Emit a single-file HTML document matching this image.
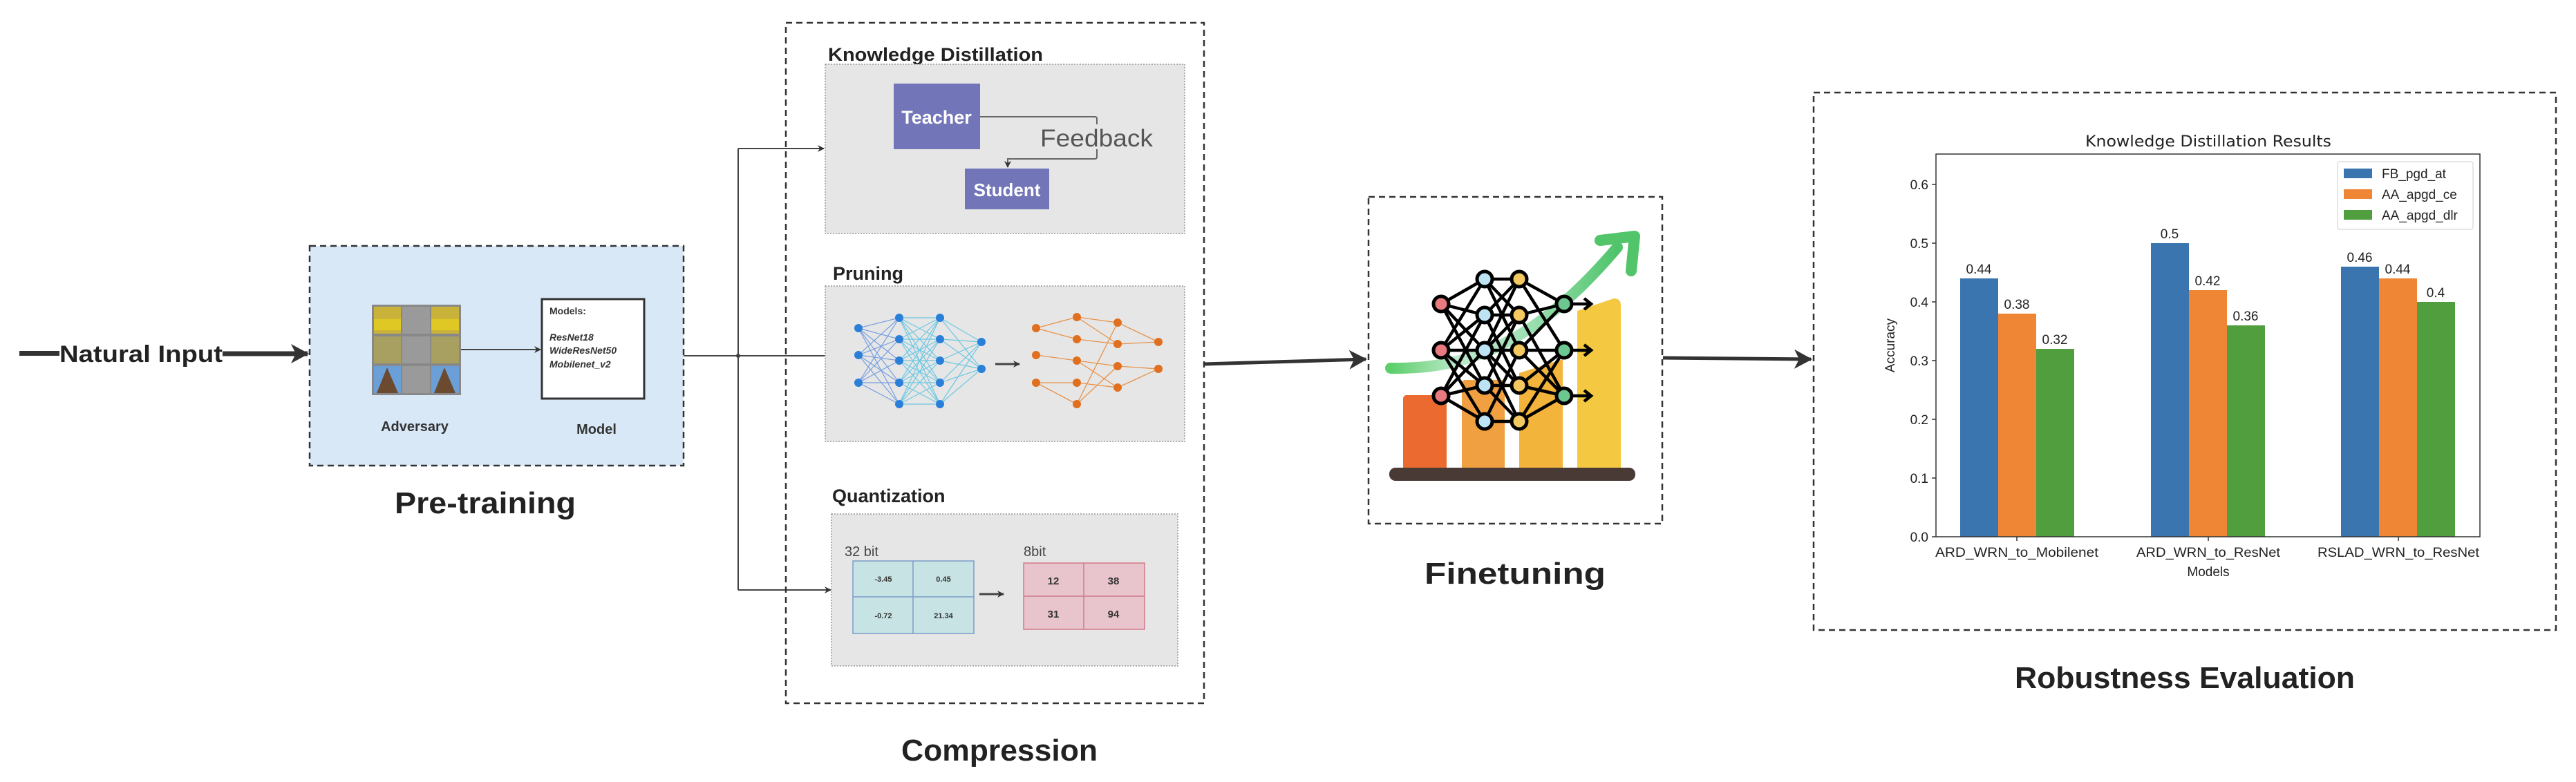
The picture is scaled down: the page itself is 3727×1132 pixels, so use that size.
<!DOCTYPE html>
<html><head><meta charset="utf-8"><style>
html,body{margin:0;padding:0;background:#fff;}
svg{display:block;}
text{font-family:"Liberation Sans","DejaVu Sans",sans-serif;}
.d{font-family:"DejaVu Sans","Liberation Sans",sans-serif;}
</style></head><body>
<svg width="3727" height="1132" viewBox="0 0 3727 1132" xmlns="http://www.w3.org/2000/svg">
<defs>
<marker id="ah" markerWidth="10" markerHeight="10" refX="9" refY="5" orient="auto" markerUnits="userSpaceOnUse"><path d="M0,0 L10,5 L0,10 L3,5 Z" fill="#333"/></marker>
<marker id="ahb" markerWidth="26" markerHeight="28" refX="24" refY="14" orient="auto" markerUnits="userSpaceOnUse"><path d="M0,0 L26,14 L0,28 L7,14 Z" fill="#333"/></marker>
<linearGradient id="garr" x1="0" y1="0" x2="1" y2="0"><stop offset="0" stop-color="#5ccf6a"/><stop offset="0.3" stop-color="#bfe9cc"/><stop offset="0.6" stop-color="#9fe0b4"/><stop offset="1" stop-color="#4fc46a"/></linearGradient>
</defs>

<!-- Natural input -->
<rect x="28" y="508" width="58" height="7" fill="#333"/>
<text x="86" y="524" font-size="34" font-weight="bold" fill="#222" textLength="236" lengthAdjust="spacingAndGlyphs">Natural Input</text>
<line x1="322" y1="512" x2="445" y2="512" stroke="#333" stroke-width="7" marker-end="url(#ahb)"/>

<!-- Pre-training -->
<rect x="448" y="356" width="541" height="318" fill="#d8e8f7" stroke="#333" stroke-width="2.5" stroke-dasharray="9,6"/>
<g>
<rect x="538" y="441" width="129" height="131" fill="#888"/>
<rect x="541" y="444" width="39" height="39" fill="#c9b23a"/><rect x="541" y="462" width="39" height="16" fill="#e0c824"/>
<rect x="582" y="444" width="40" height="39" fill="#9a9a9a"/>
<rect x="624" y="444" width="40" height="39" fill="#c9b23a"/><rect x="624" y="462" width="40" height="16" fill="#e0c824"/>
<rect x="541" y="487" width="39" height="39" fill="#a8a060"/>
<rect x="582" y="487" width="40" height="39" fill="#9a9a9a"/>
<rect x="624" y="487" width="40" height="39" fill="#a8a060"/>
<rect x="541" y="530" width="39" height="39" fill="#6a9fd8"/><path d="M545,569 L560,532 L576,569Z" fill="#6b4a30"/>
<rect x="582" y="530" width="40" height="39" fill="#9a9a9a"/>
<rect x="624" y="530" width="40" height="39" fill="#6a9fd8"/><path d="M628,569 L643,532 L659,569Z" fill="#6b4a30"/>
</g>
<line x1="667" y1="506" x2="782" y2="506" stroke="#444" stroke-width="2" marker-end="url(#ah)"/>
<rect x="784" y="433" width="148" height="144" fill="#fff" stroke="#333" stroke-width="3"/>
<text x="795" y="455" font-size="14" font-weight="bold" fill="#333">Models:</text>
<text x="795" y="493" font-size="14" font-weight="bold" font-style="italic" fill="#333">ResNet18</text>
<text x="795" y="512" font-size="14" font-weight="bold" font-style="italic" fill="#333">WideResNet50</text>
<text x="795" y="532" font-size="14" font-weight="bold" font-style="italic" fill="#333">Mobilenet_v2</text>
<text x="600" y="624" font-size="20" font-weight="bold" fill="#333" text-anchor="middle">Adversary</text>
<text x="863" y="628" font-size="20" font-weight="bold" fill="#333" text-anchor="middle">Model</text>
<text x="702" y="743" font-size="44" font-weight="bold" fill="#222" text-anchor="middle" textLength="262" lengthAdjust="spacingAndGlyphs">Pre-training</text>

<!-- branch -->
<line x1="989" y1="515" x2="1068" y2="515" stroke="#444" stroke-width="2"/>
<circle cx="1068" cy="515" r="3" fill="#333"/>
<line x1="1068" y1="215" x2="1068" y2="854" stroke="#444" stroke-width="2"/>
<line x1="1068" y1="215" x2="1192" y2="215" stroke="#444" stroke-width="2" marker-end="url(#ah)"/>
<line x1="1068" y1="515" x2="1202" y2="515" stroke="#444" stroke-width="2" marker-end="url(#ah)"/>
<line x1="1068" y1="854" x2="1202" y2="854" stroke="#444" stroke-width="2" marker-end="url(#ah)"/>

<!-- Compression -->
<rect x="1137" y="33" width="605" height="985" fill="none" stroke="#333" stroke-width="2.5" stroke-dasharray="9,6"/>
<text x="1198" y="88" font-size="27" font-weight="bold" fill="#222" textLength="311" lengthAdjust="spacingAndGlyphs">Knowledge Distillation</text>
<rect x="1194" y="93" width="520" height="245" fill="#e6e6e6" stroke="#999" stroke-width="1.5" stroke-dasharray="2,2"/>
<rect x="1293" y="121" width="125" height="95" fill="#7276b9"/>
<text x="1355" y="179" font-size="27" font-weight="bold" fill="#fff" text-anchor="middle">Teacher</text>
<rect x="1396" y="244" width="122" height="59" fill="#7276b9"/>
<text x="1457" y="284" font-size="26" font-weight="bold" fill="#fff" text-anchor="middle">Student</text>
<path d="M1418,169 L1584,169 Q1587,169 1587,172 L1587,227 Q1587,230 1584,230 L1458,230 L1458,242" fill="none" stroke="#666" stroke-width="2" marker-end="url(#ah)"/>
<rect x="1500" y="180" width="170" height="36" fill="#e6e6e6"/>
<text x="1505" y="212" font-size="35" fill="#555" textLength="163" lengthAdjust="spacingAndGlyphs">Feedback</text>

<text x="1205" y="405" font-size="27" font-weight="bold" fill="#222">Pruning</text>
<rect x="1194" y="414" width="520" height="225" fill="#e6e6e6" stroke="#999" stroke-width="1.5" stroke-dasharray="2,2"/>
<g stroke="#5b8de0" stroke-width="1.2" opacity="0.8">
<path d="M1242,475 L1301,460 M1242,475 L1301,491 M1242,475 L1301,522 M1242,475 L1301,554 M1242,475 L1301,585
M1242,514 L1301,460 M1242,514 L1301,491 M1242,514 L1301,522 M1242,514 L1301,554 M1242,514 L1301,585
M1242,554 L1301,460 M1242,554 L1301,491 M1242,554 L1301,522 M1242,554 L1301,554 M1242,554 L1301,585"/>
<path stroke="#4fc0e0" d="M1301,460 L1360,460 M1301,460 L1360,491 M1301,460 L1360,522 M1301,460 L1360,554 M1301,460 L1360,585
M1301,491 L1360,460 M1301,491 L1360,491 M1301,491 L1360,522 M1301,491 L1360,554 M1301,491 L1360,585
M1301,522 L1360,460 M1301,522 L1360,491 M1301,522 L1360,522 M1301,522 L1360,554 M1301,522 L1360,585
M1301,554 L1360,460 M1301,554 L1360,491 M1301,554 L1360,522 M1301,554 L1360,554 M1301,554 L1360,585
M1301,585 L1360,460 M1301,585 L1360,491 M1301,585 L1360,522 M1301,585 L1360,554 M1301,585 L1360,585"/>
<path stroke="#4fc0e0" d="M1360,460 L1420,495 M1360,491 L1420,495 M1360,522 L1420,495 M1360,554 L1420,495 M1360,585 L1420,495
M1360,460 L1420,534 M1360,491 L1420,534 M1360,522 L1420,534 M1360,554 L1420,534 M1360,585 L1420,534"/>
</g>
<g fill="#2a7fd8">
<circle cx="1242" cy="475" r="6"/><circle cx="1242" cy="514" r="6"/><circle cx="1242" cy="554" r="6"/>
<circle cx="1301" cy="460" r="6"/><circle cx="1301" cy="491" r="6"/><circle cx="1301" cy="522" r="6"/><circle cx="1301" cy="554" r="6"/><circle cx="1301" cy="585" r="6"/>
<circle cx="1360" cy="460" r="6"/><circle cx="1360" cy="491" r="6"/><circle cx="1360" cy="522" r="6"/><circle cx="1360" cy="554" r="6"/><circle cx="1360" cy="585" r="6"/>
<circle cx="1420" cy="495" r="6"/><circle cx="1420" cy="534" r="6"/>
</g>
<line x1="1440" y1="527" x2="1475" y2="527" stroke="#444" stroke-width="3" marker-end="url(#ah)"/>
<g stroke="#e8924a" stroke-width="1.3">
<path d="M1499,475 L1558,459 M1499,475 L1558,491 M1499,514 L1558,522 M1499,554 L1558,585 M1499,554 L1558,554
M1558,459 L1617,467 M1558,491 L1617,498 M1558,522 L1617,530 M1558,585 L1617,467 M1558,585 L1617,530 M1558,554 L1617,561 M1558,522 L1617,561
M1617,467 L1676,495 M1617,498 L1676,495 M1617,530 L1676,534 M1617,561 L1676,534 M1617,498 L1558,459"/>
</g>
<g fill="#e07020">
<circle cx="1499" cy="475" r="6"/><circle cx="1499" cy="514" r="6"/><circle cx="1499" cy="554" r="6"/>
<circle cx="1558" cy="459" r="6"/><circle cx="1558" cy="491" r="6"/><circle cx="1558" cy="522" r="6"/><circle cx="1558" cy="554" r="6"/><circle cx="1558" cy="585" r="6"/>
<circle cx="1617" cy="467" r="6"/><circle cx="1617" cy="498" r="6"/><circle cx="1617" cy="530" r="6"/><circle cx="1617" cy="561" r="6"/>
<circle cx="1676" cy="495" r="6"/><circle cx="1676" cy="534" r="6"/>
</g>

<text x="1204" y="727" font-size="27" font-weight="bold" fill="#222">Quantization</text>
<rect x="1203" y="744" width="501" height="220" fill="#e6e6e6" stroke="#999" stroke-width="1.5" stroke-dasharray="2,2"/>
<text x="1222" y="805" font-size="20" fill="#444">32 bit</text>
<text x="1481" y="805" font-size="20" fill="#444">8bit</text>
<rect x="1234" y="812" width="175" height="105" fill="#c8e3e3" stroke="#7a9cc9" stroke-width="1.5"/>
<line x1="1321" y1="812" x2="1321" y2="917" stroke="#7a9cc9" stroke-width="1.5"/>
<line x1="1234" y1="864" x2="1409" y2="864" stroke="#7a9cc9" stroke-width="1.5"/>
<g font-size="11" font-weight="bold" fill="#333" text-anchor="middle">
<text x="1278" y="842">-3.45</text><text x="1365" y="842">0.45</text>
<text x="1278" y="895">-0.72</text><text x="1365" y="895">21.34</text></g>
<line x1="1417" y1="860" x2="1452" y2="860" stroke="#444" stroke-width="3" marker-end="url(#ah)"/>
<rect x="1481" y="815" width="175" height="96" fill="#e8c4cc" stroke="#d07a8a" stroke-width="1.5"/>
<line x1="1568" y1="815" x2="1568" y2="911" stroke="#d07a8a" stroke-width="1.5"/>
<line x1="1481" y1="863" x2="1656" y2="863" stroke="#d07a8a" stroke-width="1.5"/>
<g font-size="15" font-weight="bold" fill="#333" text-anchor="middle">
<text x="1524" y="846">12</text><text x="1611" y="846">38</text>
<text x="1524" y="894">31</text><text x="1611" y="894">94</text></g>
<text x="1446" y="1101" font-size="44" font-weight="bold" fill="#222" text-anchor="middle" textLength="284" lengthAdjust="spacingAndGlyphs">Compression</text>

<line x1="1742" y1="527" x2="1976" y2="520" stroke="#333" stroke-width="5" marker-end="url(#ahb)"/>

<!-- Finetuning -->
<rect x="1980" y="285" width="425" height="473" fill="none" stroke="#333" stroke-width="2.5" stroke-dasharray="9,6"/>
<rect x="2030" y="572" width="63" height="110" rx="5" fill="#ea6a30"/>
<rect x="2115" y="550" width="62" height="132" rx="5" fill="#f0a040"/>
<path d="M2198,540 L2261,520 L2261,682 L2198,682Z" fill="#f2b43a"/>
<path d="M2282,450 L2335,432 Q2345,432 2345,442 L2345,682 L2282,682Z" fill="#f4c840"/>
<path d="M2012,533 C2120,535 2220,500 2340,358" fill="none" stroke="url(#garr)" stroke-width="16" stroke-linecap="round"/>
<path d="M2315,348 L2365,342 L2360,392" fill="none" stroke="#52c46a" stroke-width="16" stroke-linecap="round" stroke-linejoin="round"/>
<rect x="2010" y="677" width="356" height="19" rx="9" fill="#4a3a36"/>
<g stroke="#000" stroke-width="4.5" fill="none">
<path d="M2085,440 L2148,404 M2085,440 L2148,456 M2085,440 L2148,507 M2085,440 L2148,558
M2085,507 L2148,456 M2085,507 L2148,507 M2085,507 L2148,558 M2085,507 L2148,404 M2085,507 L2148,610
M2085,573 L2148,610 M2085,573 L2148,558 M2085,573 L2148,507 M2085,573 L2148,456
M2148,404 L2198,404 M2148,404 L2198,507 M2148,456 L2198,456 M2148,456 L2198,558 M2148,456 L2198,404
M2148,507 L2198,507 M2148,507 L2198,456 M2148,507 L2198,558 M2148,507 L2198,404 M2148,507 L2198,610
M2148,558 L2198,558 M2148,558 L2198,456 M2148,558 L2198,610 M2148,610 L2198,610 M2148,610 L2198,507 M2148,404 L2198,456
M2198,404 L2263,440 M2198,404 L2263,507 M2198,456 L2263,440 M2198,456 L2263,573 M2198,507 L2263,507 M2198,507 L2263,440 M2198,507 L2263,573
M2198,558 L2263,507 M2198,558 L2263,573 M2198,610 L2263,573 M2198,610 L2263,507
M2263,440 L2302,440 M2263,507 L2302,507 M2263,573 L2302,573
M2292,432 L2302,440 L2292,448 M2292,499 L2302,507 L2292,515 M2292,565 L2302,573 L2292,581"/>
</g>
<g stroke="#000" stroke-width="5">
<circle cx="2085" cy="440" r="11" fill="#e87a80"/><circle cx="2085" cy="507" r="11" fill="#e87a80"/><circle cx="2085" cy="573" r="11" fill="#e87a80"/>
<circle cx="2148" cy="404" r="11" fill="#bde4f4"/><circle cx="2148" cy="456" r="11" fill="#bde4f4"/><circle cx="2148" cy="507" r="11" fill="#bde4f4"/><circle cx="2148" cy="558" r="11" fill="#bde4f4"/><circle cx="2148" cy="610" r="11" fill="#bde4f4"/>
<circle cx="2198" cy="404" r="11" fill="#f4c860"/><circle cx="2198" cy="456" r="11" fill="#f4c860"/><circle cx="2198" cy="507" r="11" fill="#f4c860"/><circle cx="2198" cy="558" r="11" fill="#f4c860"/><circle cx="2198" cy="610" r="11" fill="#f4c860"/>
<circle cx="2263" cy="440" r="11" fill="#6cc890"/><circle cx="2263" cy="507" r="11" fill="#6cc890"/><circle cx="2263" cy="573" r="11" fill="#6cc890"/>
</g>
<text x="2192" y="845" font-size="44" font-weight="bold" fill="#222" text-anchor="middle" textLength="262" lengthAdjust="spacingAndGlyphs">Finetuning</text>

<line x1="2406" y1="518" x2="2620" y2="520" stroke="#333" stroke-width="5" marker-end="url(#ahb)"/>

<!-- Results -->
<rect x="2624" y="134" width="1074" height="778" fill="none" stroke="#333" stroke-width="2.5" stroke-dasharray="9,6"/>
<text class="d" x="3195" y="212" font-size="22" fill="#222" text-anchor="middle" textLength="356" lengthAdjust="spacingAndGlyphs">Knowledge Distillation Results</text>
<g class="d">
<rect x="2836" y="403" width="55" height="374" fill="#3a75af"/>
<rect x="2891" y="454" width="55" height="323" fill="#ef8636"/>
<rect x="2946" y="505" width="55" height="272" fill="#519e3e"/>
<rect x="3112" y="352" width="55" height="425" fill="#3a75af"/>
<rect x="3167" y="420" width="55" height="357" fill="#ef8636"/>
<rect x="3222" y="471" width="55" height="306" fill="#519e3e"/>
<rect x="3387" y="386" width="55" height="391" fill="#3a75af"/>
<rect x="3442" y="403" width="55" height="374" fill="#ef8636"/>
<rect x="3497" y="437" width="55" height="340" fill="#519e3e"/>
<g font-size="19" fill="#222" text-anchor="middle">
<text x="2863" y="396">0.44</text><text x="2918" y="447">0.38</text><text x="2973" y="498">0.32</text>
<text x="3139" y="345">0.5</text><text x="3194" y="413">0.42</text><text x="3249" y="464">0.36</text>
<text x="3414" y="379">0.46</text><text x="3469" y="396">0.44</text><text x="3524" y="430">0.4</text>
</g>
<rect x="2801" y="223" width="787" height="554" fill="none" stroke="#333" stroke-width="1.5"/>
<g stroke="#333" stroke-width="1.5">
<path d="M2795,777 H2801 M2795,692 H2801 M2795,607 H2801 M2795,522 H2801 M2795,437 H2801 M2795,352 H2801 M2795,267 H2801 M2918,777 V783 M3195,777 V783 M3470,777 V783"/>
</g>
<g font-size="19" fill="#222" text-anchor="end">
<text x="2790" y="784">0.0</text><text x="2790" y="699">0.1</text><text x="2790" y="614">0.2</text><text x="2790" y="529">0.3</text><text x="2790" y="444">0.4</text><text x="2790" y="359">0.5</text><text x="2790" y="274">0.6</text>
</g>
<g font-size="19" fill="#222" text-anchor="middle">
<text x="2918" y="806" textLength="236" lengthAdjust="spacingAndGlyphs">ARD_WRN_to_Mobilenet</text>
<text x="3195" y="806" textLength="208" lengthAdjust="spacingAndGlyphs">ARD_WRN_to_ResNet</text>
<text x="3470" y="806" textLength="234" lengthAdjust="spacingAndGlyphs">RSLAD_WRN_to_ResNet</text>
<text x="3195" y="834">Models</text>
</g>
<text x="2741" y="500" font-size="19" fill="#222" text-anchor="middle" transform="rotate(-90 2741 500)">Accuracy</text>
<rect x="3382" y="234" width="196" height="98" rx="3" fill="#fff" stroke="#ddd" stroke-width="1.5"/>
<rect x="3391" y="244" width="41" height="14" fill="#3a75af"/>
<rect x="3391" y="274" width="41" height="14" fill="#ef8636"/>
<rect x="3391" y="304" width="41" height="14" fill="#519e3e"/>
<g font-size="19" fill="#222">
<text x="3446" y="258">FB_pgd_at</text><text x="3446" y="288">AA_apgd_ce</text><text x="3446" y="318">AA_apgd_dlr</text>
</g>
</g>
<text x="3161" y="996" font-size="44" font-weight="bold" fill="#222" text-anchor="middle" textLength="492" lengthAdjust="spacingAndGlyphs">Robustness Evaluation</text>
</svg>
</body></html>
